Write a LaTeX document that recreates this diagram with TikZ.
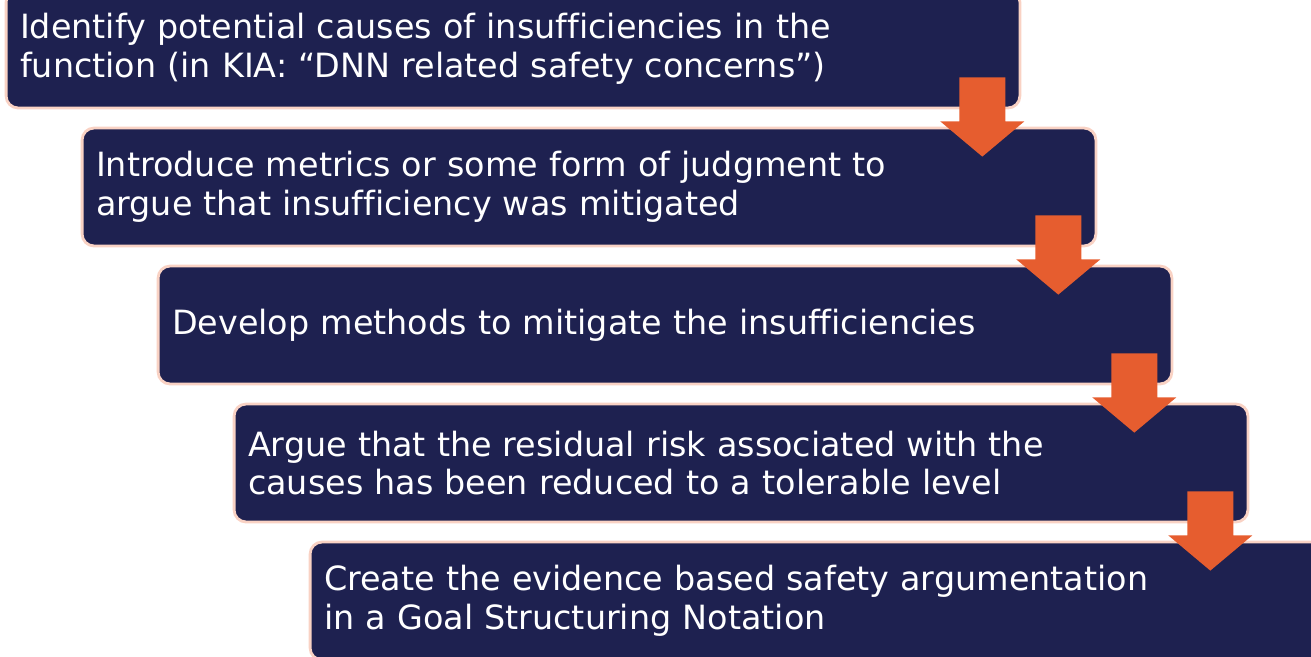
\documentclass[tikz,border=0pt]{standalone}
\usepackage{fontspec}
\setmainfont[Ligatures=NoCommon]{DejaVu Sans}
\usetikzlibrary{calc}
\definecolor{navy}{HTML}{1E2150}
\definecolor{flow}{HTML}{E65D2F}
\definecolor{rim}{HTML}{F9D2C4}
\tikzstyle{stepbox}=[rectangle,rounded corners=0.24cm,fill=navy,draw=rim,line width=1.6pt,text=white,minimum width=20.28cm,minimum height=2.36cm,text width=19.72cm,inner xsep=0.28cm,align=left,font=\fontsize{19}{22.1}\selectfont]
\tikzstyle{flowarrow}=[fill=flow]

\begin{document}
\begin{tikzpicture}[x=0.02cm,y=-0.02cm]

    \useasboundingbox (0,0) rectangle (1311,656);
    \clip (0,0) rectangle (1311,656);

	\def\dx{76};
	\def\dy{138};

% Steps
    \foreach \i/\name/\label in {
        {0/s1/Identify potential causes of insufficiencies in the\\function (in KIA: “DNN related safety concerns”)},
        {1/s2/Introduce metrics or some form of judgment to\\argue that insufficiency was mitigated},
        {2/s3/Develop methods to mitigate the insufficiencies},
        {3/s4/Argue that the residual risk associated with the\\causes has been reduced to a tolerable level},
        {4/s5/Create the evidence based safety argumentation\\in a Goal Structuring Notation}}
        \node[stepbox] (\name) at (513+\i*\dx, 49+\i*\dy) {\label};

% Arrows
  	\foreach \source/\dest in {s1/s2, s2/s3, s3/s4, s4/s5}
		\fill[flowarrow] ($(\source.south east)+(-62,-32)$) -- ($(\source.south east)+(-16,-32)$)
		    -- ($(\source.south east)+(-16,12)$) -- ($(\source.south east)+(3,12)$)
		    -- ($(\dest.north east)+(-115,30)$)
		    -- ($(\source.south east)+(-81,12)$) -- ($(\source.south east)+(-62,12)$) -- cycle;

\end{tikzpicture}
\end{document}
